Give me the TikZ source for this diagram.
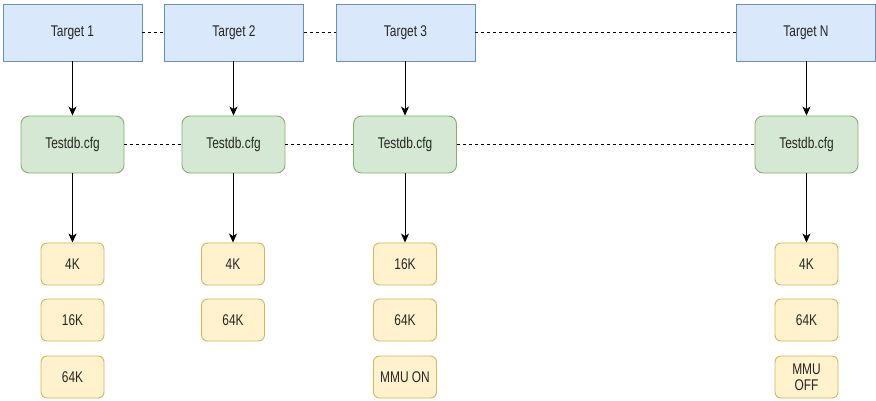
\documentclass[tikz,border=0pt]{standalone}
\usepackage{fontspec}
\setmainfont{Liberation Sans}[FakeStretch=0.77]
\usetikzlibrary{arrows.meta}
\definecolor{tfill}{HTML}{DAE8FC}
\definecolor{tline}{HTML}{6C8EBF}
\definecolor{cfill}{HTML}{D5E8D4}
\definecolor{cline}{HTML}{82B366}
\definecolor{sfill}{HTML}{FFF2CC}
\definecolor{sline}{HTML}{D6B656}
\definecolor{txt}{HTML}{262626}
\tikzset{
  base/.style={draw, line width=0.9pt, text=txt, font=\fontsize{15.5}{16}\selectfont, inner sep=0pt, align=center},
  target/.style={base, fill=tfill, draw=tline, minimum width=139pt, minimum height=57pt},
  cfg/.style={base, fill=cfill, draw=cline, rounded corners=8pt, minimum width=103pt, minimum height=57pt},
  opt/.style={base, fill=sfill, draw=sline, rounded corners=6pt, minimum width=63pt, minimum height=42pt},
  flow/.style={draw=black, line width=0.9pt, -{Stealth[length=9pt,width=8pt,inset=2.5pt]}},
  link/.style={draw=black, line width=0.9pt, dash pattern=on 3pt off 3pt}
}
\begin{document}
\begin{tikzpicture}[x=1pt,y=-1pt]
\useasboundingbox[fill=white] (0,0) rectangle (876,400);
% targets
\node[target] (t1) at (72.5,32.5) {Target 1};
\node[target] (t2) at (234,32.5) {Target 2};
\node[target] (t3) at (405.5,32.5) {Target 3};
\node[target] (tn) at (806,32.5) {Target N};
% configuration files
\node[cfg] (c1) at (72.5,144.5) {Testdb.cfg};
\node[cfg] (c2) at (233.5,144.5) {Testdb.cfg};
\node[cfg] (c3) at (405,144.5) {Testdb.cfg};
\node[cfg] (cn) at (806.5,144.5) {Testdb.cfg};
% options per target
\node[opt] (a1) at (72.5,264) {4K};
\node[opt] (a2) at (72.5,320) {16K};
\node[opt] (a3) at (72.5,377) {64K};
\node[opt] (b1) at (233,264) {4K};
\node[opt] (b2) at (233,320) {64K};
\node[opt] (d1) at (405,264) {16K};
\node[opt] (d2) at (405,320) {64K};
\node[opt] (d3) at (405,377) {MMU ON};
\node[opt] (n1) at (806.5,264) {4K};
\node[opt] (n2) at (806.5,320) {64K};
\node[opt] (n3) at (806.5,377) {MMU\\OFF};
% dashed links
\draw[link] (t1) -- (t2);
\draw[link] (t2) -- (t3);
\draw[link] (t3) -- (tn);
\draw[link] (c1) -- (c2);
\draw[link] (c2) -- (c3);
\draw[link] (c3) -- (cn);
% arrows
\draw[flow] (t1.south) -- (c1.north);
\draw[flow] (t2.south -| c2) -- (c2.north);
\draw[flow] (t3.south -| c3) -- (c3.north);
\draw[flow] (tn.south -| cn) -- (cn.north);
\draw[flow] (c1.south) -- (a1.north);
\draw[flow] (c2.south -| b1) -- (b1.north);
\draw[flow] (c3.south) -- (d1.north);
\draw[flow] (cn.south) -- (n1.north);
\end{tikzpicture}
\end{document}
